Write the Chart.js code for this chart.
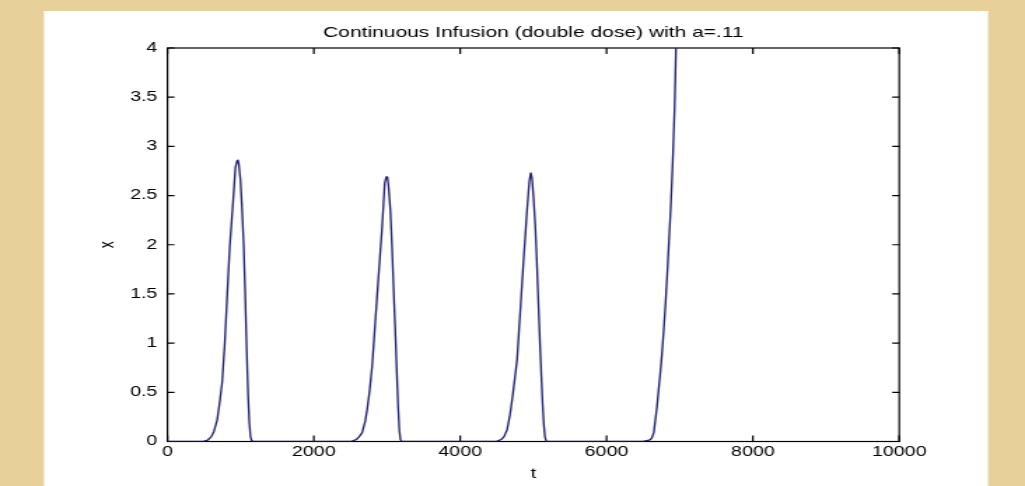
<!DOCTYPE html>
<html><head><meta charset="utf-8">
<script src="https://cdn.jsdelivr.net/npm/chart.js@4.4.1/dist/chart.umd.min.js"></script>
<style>
html,body{margin:0;padding:0;background:#e8d09a;overflow:hidden;width:1025px;height:486px;}
#wrap{position:absolute;left:0;top:0;width:732px;height:486px;transform:scaleX(1.400273);transform-origin:0 0;}
</style></head><body>
<div id="wrap"><canvas id="c"></canvas></div>
<script>
const chartTitle = 'Continuous Infusion (double dose) with a=.11';
const xAxisLabel = 't';
const yAxisLabel = 'x';
const xTickValues = [0, 2000, 4000, 6000, 8000, 10000];
const xTickLabels = ['0', '2000', '4000', '6000', '8000', '10000'];
const yTickValues = [0, 0.5, 1, 1.5, 2, 2.5, 3, 3.5, 4];
const yTickLabels = ['0', '0.5', '1', '1.5', '2', '2.5', '3', '3.5', '4'];
const tValues = [0, 300,
  500, 550, 600, 633, 679, 710, 747, 783, 815, 851, 892, 929, 950, 962, 975, 997, 1020, 1042, 1060, 1075, 1090, 1102, 1118, 1134, 1150, 1170,
  2400, 2523, 2580, 2620, 2660, 2700, 2728, 2760, 2796, 2842, 2887, 2933, 2969, 2990, 3005, 3020, 3046, 3070, 3092, 3110, 3124, 3140, 3151, 3168, 3183, 3200,
  4400, 4504, 4560, 4600, 4641, 4680, 4709, 4740, 4777, 4822, 4867, 4913, 4945, 4965, 4980, 5000, 5027, 5050, 5072, 5090, 5109, 5125, 5141, 5158, 5175,
  6400, 6507, 6560, 6600, 6621, 6645, 6667, 6690, 6712, 6735, 6758, 6780, 6803, 6826, 6849, 6872, 6894, 6912, 6930, 6949, 6970];
const xValues = [0, 0,
  0.003, 0.015, 0.05, 0.10, 0.22, 0.38, 0.60, 1.00, 1.47, 1.98, 2.39, 2.79, 2.85, 2.86, 2.82, 2.66, 2.35, 1.98, 1.55, 1.13, 0.75, 0.46, 0.20, 0.05, 0.01, 0,
  0, 0.003, 0.02, 0.05, 0.09, 0.20, 0.32, 0.50, 0.76, 1.24, 1.71, 2.18, 2.63, 2.69, 2.69, 2.60, 2.35, 1.95, 1.51, 1.18, 0.90, 0.58, 0.36, 0.12, 0.02, 0,
  0, 0.003, 0.02, 0.05, 0.12, 0.27, 0.42, 0.60, 0.83, 1.34, 1.85, 2.35, 2.65, 2.73, 2.68, 2.50, 2.18, 1.78, 1.34, 1.00, 0.66, 0.40, 0.19, 0.05, 0,
  0, 0.003, 0.01, 0.02, 0.04, 0.09, 0.22, 0.36, 0.53, 0.70, 0.90, 1.12, 1.37, 1.66, 1.98, 2.30, 2.66, 3.00, 3.40, 4.0, 4.6];

const FONT = {family: '"Liberation Sans", Arial, sans-serif', size: 14, weight: 'normal', lineHeight: 1.2};
const TITLE_FONT = {family: '"Liberation Sans", Arial, sans-serif', size: 15, weight: 'normal', lineHeight: 1.2};

const bgPlugin = {
  id: 'bg',
  beforeDraw(chart) {
    const ctx = chart.ctx;
    ctx.save();
    ctx.fillStyle = '#e8d09a';
    ctx.fillRect(0, 0, chart.width, chart.height);
    ctx.fillStyle = '#ffffff';
    ctx.fillRect(31.4, 11, 705.6 - 31.4, chart.height - 11);
    ctx.restore();
  }
};
const boxPlugin = {
  id: 'box',
  beforeDatasetsDraw(chart) {
    const ctx = chart.ctx;
    const {left, right, top, bottom} = chart.chartArea;
    const xs = chart.scales.x, ys = chart.scales.y;
    ctx.save();
    ctx.strokeStyle = '#000';
    ctx.lineWidth = 1.2;
    ctx.strokeRect(left, top, right - left, bottom - top);
    ctx.beginPath();
    xTickValues.forEach(v => {
      const px = xs.getPixelForValue(v);
      ctx.moveTo(px, bottom); ctx.lineTo(px, bottom - 6);
      ctx.moveTo(px, top); ctx.lineTo(px, top + 6);
    });
    yTickValues.forEach(v => {
      const py = ys.getPixelForValue(v);
      ctx.moveTo(left, py); ctx.lineTo(left + 5, py);
      ctx.moveTo(right, py); ctx.lineTo(right - 5, py);
    });
    ctx.stroke();
    ctx.restore();
  }
};

new Chart(document.getElementById('c'), {
  type: 'line',
  data: {
    datasets: [{
      data: tValues.map((t, i) => ({x: t, y: xValues[i]})),
      borderColor: '#22226f',
      borderWidth: 1.35,
      borderJoinStyle: 'round',
      borderCapStyle: 'round',
      pointRadius: 0,
      tension: 0.00001,
      fill: false
    }]
  },
  options: {
    responsive: true,
    maintainAspectRatio: false,
    animation: false,
    layout: {padding: {top: 24.3, left: 0, right: 89.8, bottom: 0}},
    plugins: {
      legend: {display: false},
      tooltip: {enabled: false},
      title: {display: true, text: chartTitle, fullSize: false, color: '#000', font: TITLE_FONT, padding: {top: 0, bottom: 5.7}}
    },
    scales: {
      x: {
        type: 'linear', min: 0, max: 10000,
        afterBuildTicks: s => { s.ticks = xTickValues.map(v => ({value: v})); },
        afterFit: s => { s.height = 44.5; },
        grid: {display: false, drawTicks: false}, border: {display: false},
        ticks: {callback: (v, i) => xTickLabels[i], padding: 2, maxRotation: 0, autoSkip: false, color: '#000', font: FONT},
        title: {display: true, text: xAxisLabel, color: '#000', font: FONT, padding: {top: 0, bottom: 3.6}}
      },
      y: {
        type: 'linear', min: 0, max: 4,
        afterBuildTicks: s => { s.ticks = yTickValues.map(v => ({value: v})); },
        afterFit: s => { s.width = 119.6; },
        grid: {display: false, drawTicks: false}, border: {display: false},
        ticks: {callback: (v, i) => yTickLabels[i], padding: 7.2, autoSkip: false, color: '#000', font: FONT},
        title: {display: true, text: yAxisLabel, color: '#000', font: FONT, padding: {top: 68.5, bottom: 0}}
      }
    }
  },
  plugins: [bgPlugin, boxPlugin]
});
</script>
</body></html>
